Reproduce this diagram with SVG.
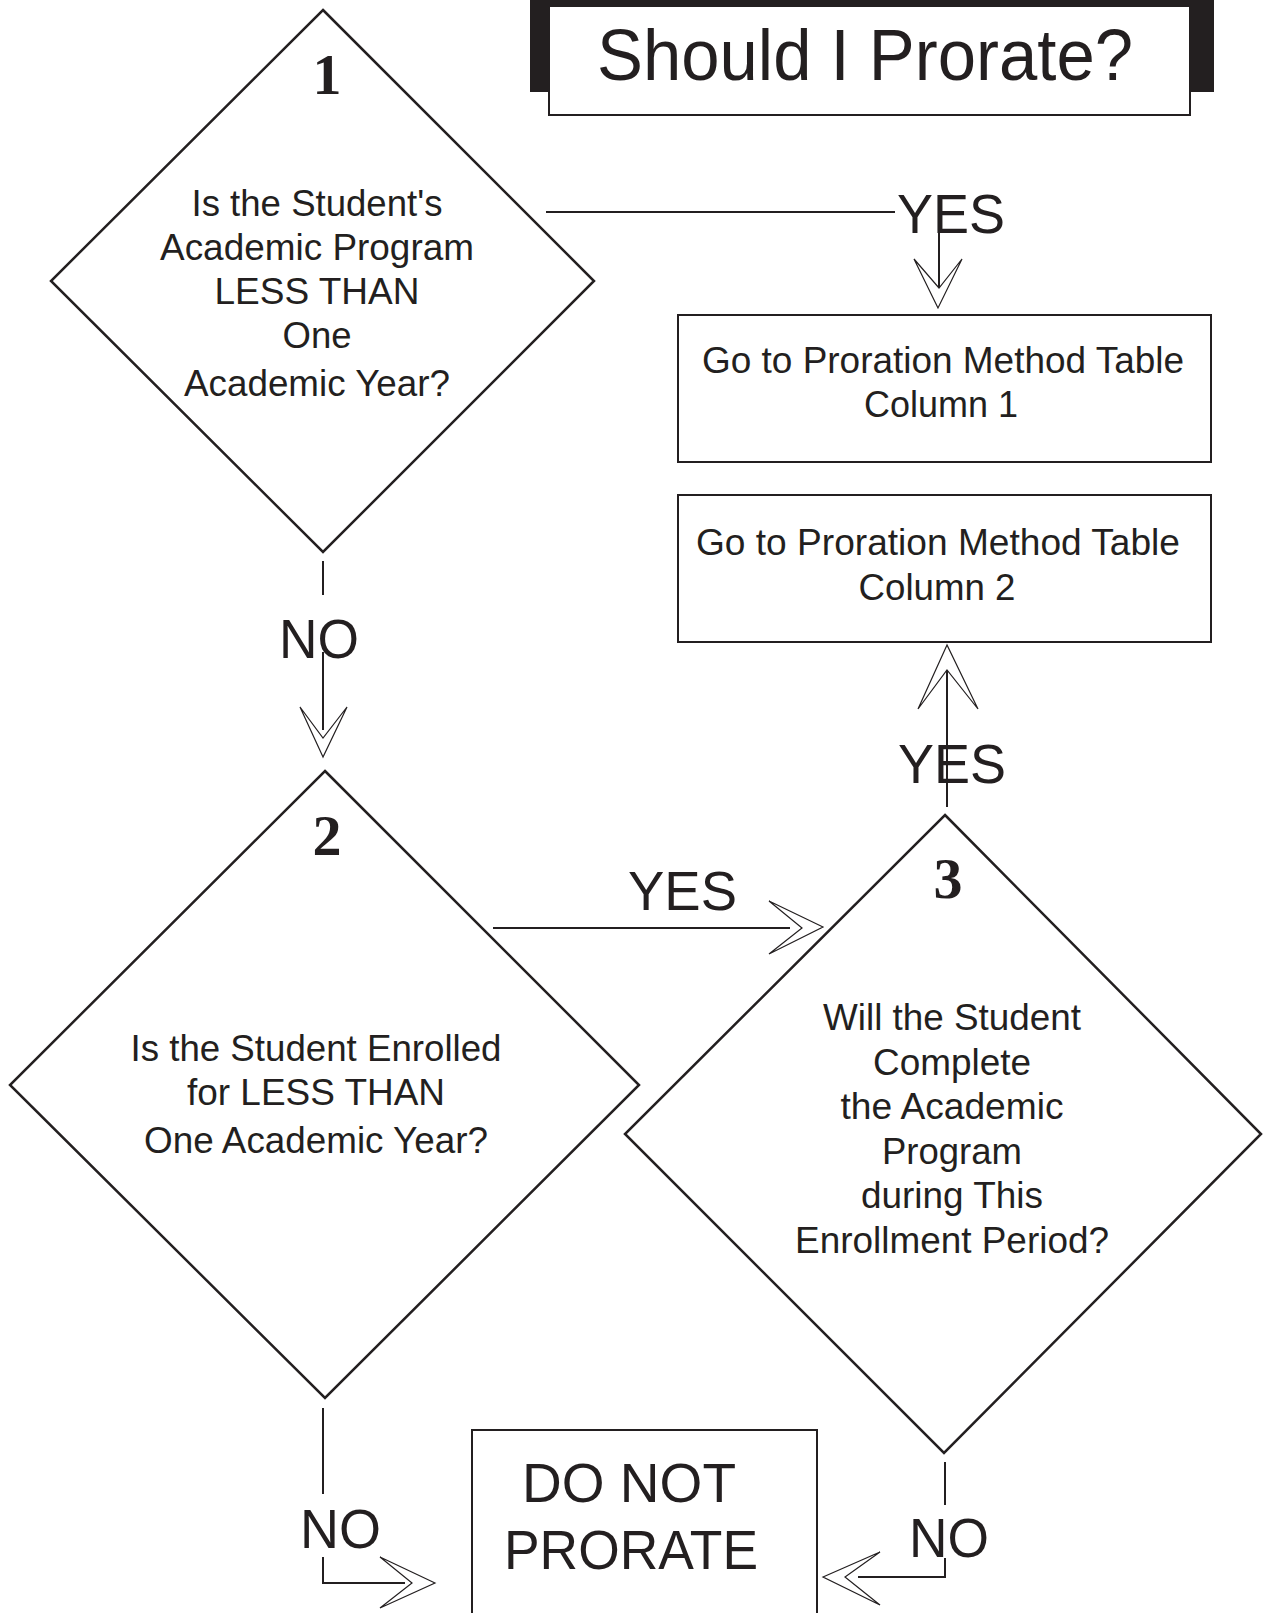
<svg xmlns="http://www.w3.org/2000/svg" width="1263" height="1613" viewBox="0 0 1263 1613">
<defs>
<style>
.shape{fill:#fff;stroke:#231f20;stroke-width:2.5}
.box{fill:#fff;stroke:#231f20;stroke-width:2}
.ln{fill:none;stroke:#231f20;stroke-width:2}
.ah{fill:#fff;stroke:#231f20;stroke-width:1.2;stroke-linejoin:miter}
.t{font-family:"Liberation Sans",Arial,Helvetica,sans-serif;font-size:36px;fill:#231f20;text-anchor:middle}
.lbl{font-family:"Liberation Sans",Arial,Helvetica,sans-serif;font-size:55px;fill:#231f20}
.num{font-family:"Liberation Serif","Times New Roman",serif;font-weight:bold;font-size:58px;fill:#231f20;text-anchor:middle}
</style>
</defs>
<rect width="1263" height="1613" fill="#fff"/>

<g id="title">
<rect x="530" y="0" width="684" height="92" fill="#231f20"/>
<rect x="549" y="6" width="641" height="109" class="box"/>
<text x="865" y="80" class="t" style="font-size:73px" textLength="536" lengthAdjust="spacingAndGlyphs">Should I Prorate?</text>
</g>

<g id="connectors">
<!-- 1 YES -> col1 -->
<polyline class="ln" points="546,212 895,212"/>
<line class="ln" x1="939" y1="212" x2="939" y2="289"/>
<polygon class="ah" points="938,308 914,259 939,288 962,259"/>
<text x="897" y="233" class="lbl" textLength="108" lengthAdjust="spacingAndGlyphs">YES</text>
<!-- 1 NO -> 2 -->
<line class="ln" x1="323" y1="561" x2="323" y2="595"/>
<line class="ln" x1="323" y1="652" x2="323" y2="730"/>
<polygon class="ah" points="323,757 300,707 323,738 347,707"/>
<text x="279" y="658" class="lbl" textLength="80" lengthAdjust="spacingAndGlyphs">NO</text>
<!-- 2 YES -> 3 -->
<line class="ln" x1="493" y1="928" x2="790" y2="928"/>
<polygon class="ah" points="823,927 769,901 802,928 769,954"/>
<text x="628" y="910" class="lbl" textLength="109" lengthAdjust="spacingAndGlyphs">YES</text>
<!-- 3 YES -> col2 -->
<line class="ln" x1="947" y1="807" x2="947" y2="670"/>
<polygon class="ah" points="947,645 918,709 947,670 978,709"/>
<text x="898" y="783" class="lbl" textLength="108" lengthAdjust="spacingAndGlyphs">YES</text>
<!-- 2 NO -> DO NOT -->
<line class="ln" x1="323" y1="1408" x2="323" y2="1494"/>
<polyline class="ln" points="323,1557 323,1583 405,1583"/>
<polygon class="ah" points="435,1583 380,1557 412,1583 380,1608"/>
<text x="300" y="1548" class="lbl" textLength="81" lengthAdjust="spacingAndGlyphs">NO</text>
<!-- 3 NO -> DO NOT -->
<line class="ln" x1="945" y1="1462" x2="945" y2="1505"/>
<polyline class="ln" points="945,1558 945,1577 858,1577"/>
<polygon class="ah" points="823,1577 880,1552 845,1577 880,1605"/>
<text x="909" y="1557" class="lbl" textLength="80" lengthAdjust="spacingAndGlyphs">NO</text>
</g>

<g id="d1">
<polygon class="shape" points="323,10 594,281 323,552 51,281"/>
<text x="327" y="94" class="num">1</text>
<text x="317" y="216" class="t" textLength="251" lengthAdjust="spacingAndGlyphs">Is the Student's</text>
<text x="317" y="260" class="t" textLength="314" lengthAdjust="spacingAndGlyphs">Academic Program</text>
<text x="317" y="304" class="t" textLength="205" lengthAdjust="spacingAndGlyphs">LESS THAN</text>
<text x="317" y="348" class="t" textLength="69" lengthAdjust="spacingAndGlyphs">One</text>
<text x="317" y="396" class="t" textLength="266" lengthAdjust="spacingAndGlyphs">Academic Year?</text>
</g>

<g id="col1">
<rect x="678" y="315" width="533" height="147" class="box"/>
<text x="943" y="373" class="t" textLength="482" lengthAdjust="spacingAndGlyphs">Go to Proration Method Table</text>
<text x="941" y="417" class="t" textLength="154" lengthAdjust="spacingAndGlyphs">Column 1</text>
</g>

<g id="col2">
<rect x="678" y="495" width="533" height="147" class="box"/>
<text x="938" y="555" class="t" textLength="484" lengthAdjust="spacingAndGlyphs">Go to Proration Method Table</text>
<text x="937" y="600" class="t" textLength="157" lengthAdjust="spacingAndGlyphs">Column 2</text>
</g>

<g id="d2">
<polygon class="shape" points="325,771 639,1085 325,1398 10,1085"/>
<text x="327" y="855" class="num">2</text>
<text x="316" y="1061" class="t" textLength="371" lengthAdjust="spacingAndGlyphs">Is the Student Enrolled</text>
<text x="316" y="1105" class="t" textLength="258" lengthAdjust="spacingAndGlyphs">for LESS THAN</text>
<text x="316" y="1153" class="t" textLength="344" lengthAdjust="spacingAndGlyphs">One Academic Year?</text>
</g>

<g id="d3">
<polygon class="shape" points="945,815 1261,1134 944,1453 625,1134"/>
<text x="948" y="898" class="num">3</text>
<text x="952" y="1030" class="t" textLength="258" lengthAdjust="spacingAndGlyphs">Will the Student</text>
<text x="952" y="1075" class="t" textLength="158" lengthAdjust="spacingAndGlyphs">Complete</text>
<text x="952" y="1119" class="t" textLength="223" lengthAdjust="spacingAndGlyphs">the Academic</text>
<text x="952" y="1164" class="t" textLength="140" lengthAdjust="spacingAndGlyphs">Program</text>
<text x="952" y="1208" class="t" textLength="182" lengthAdjust="spacingAndGlyphs">during This</text>
<text x="952" y="1253" class="t" textLength="314" lengthAdjust="spacingAndGlyphs">Enrollment Period?</text>
</g>

<g id="donot">
<rect x="472" y="1430" width="345" height="200" class="box"/>
<text x="629" y="1502" class="t" style="font-size:56px" textLength="214" lengthAdjust="spacingAndGlyphs">DO NOT</text>
<text x="631" y="1569" class="t" style="font-size:56px" textLength="254" lengthAdjust="spacingAndGlyphs">PRORATE</text>
</g>
</svg>
